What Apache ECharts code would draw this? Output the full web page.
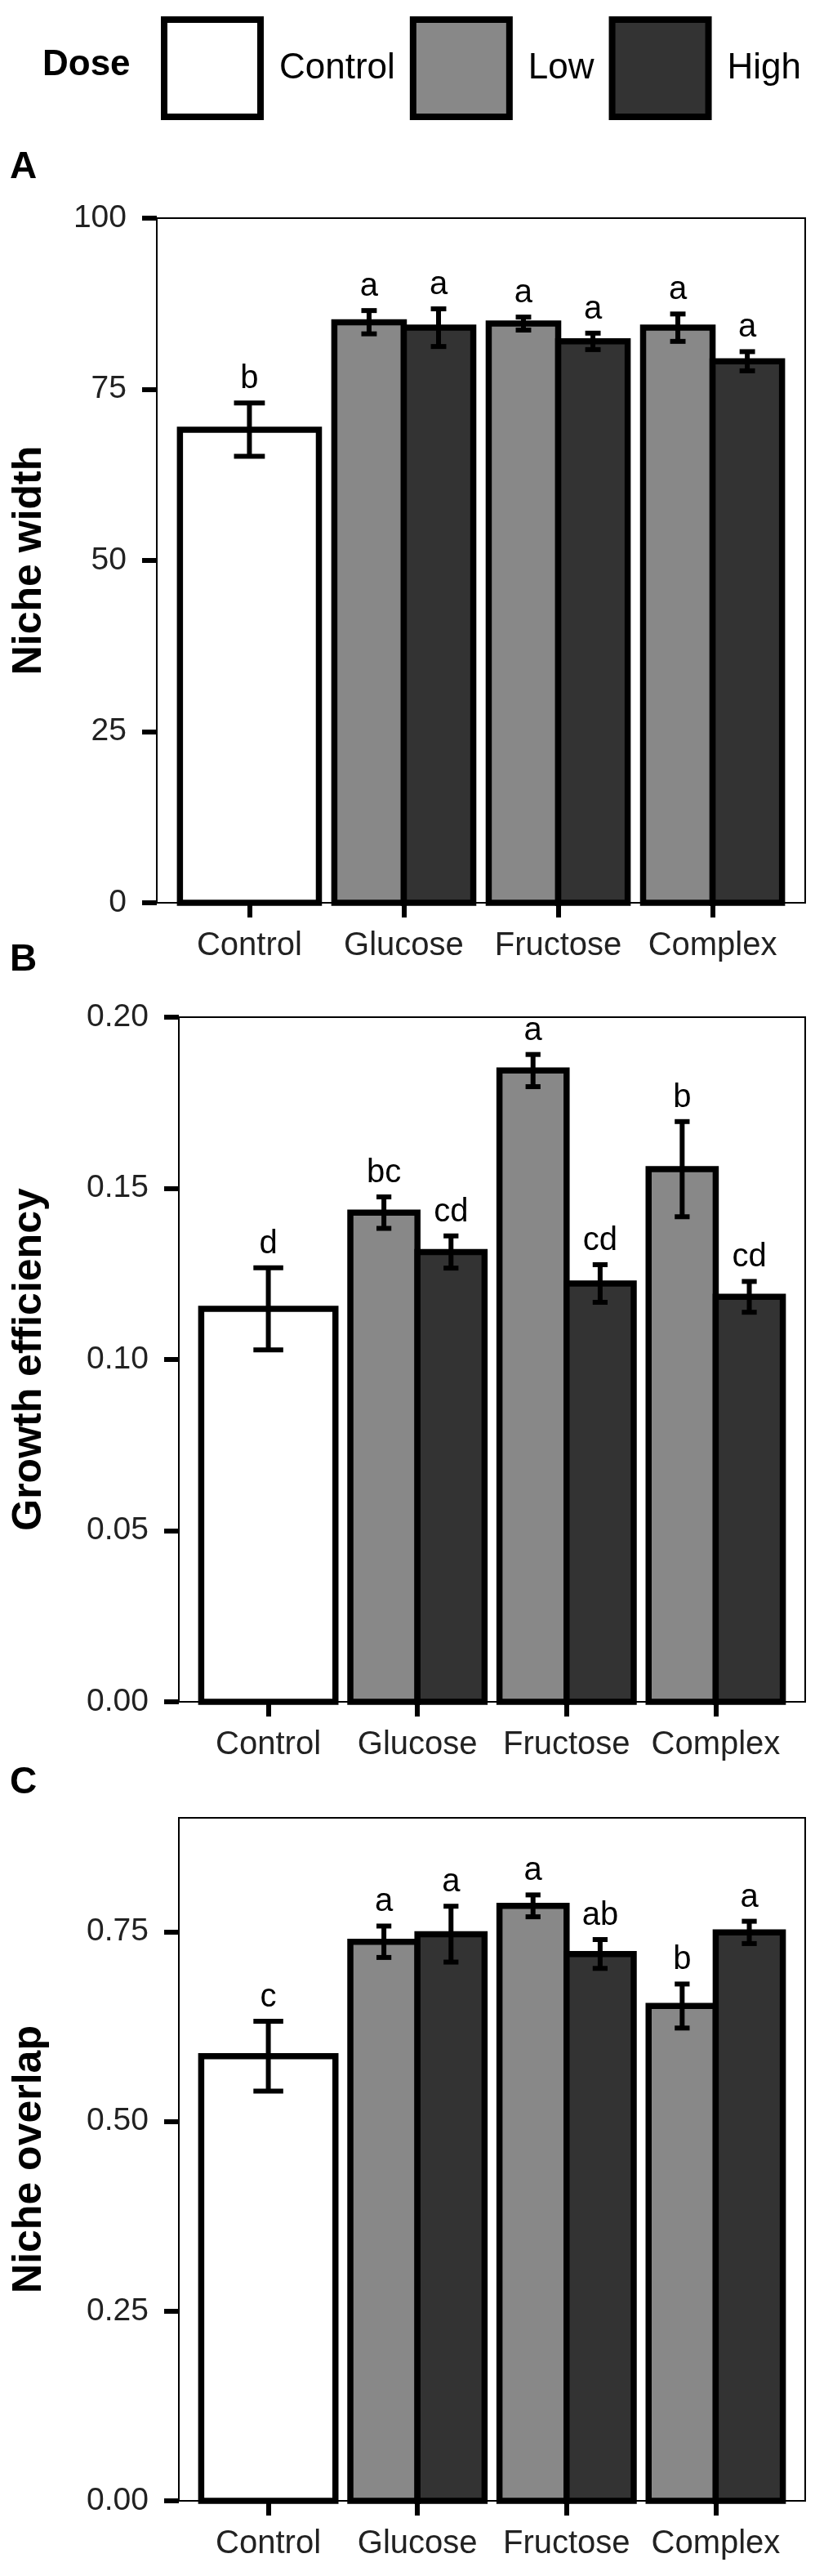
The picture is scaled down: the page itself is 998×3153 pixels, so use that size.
<!DOCTYPE html>
<html>
<head>
<meta charset="utf-8">
<title>Niche width, growth efficiency and niche overlap by dose</title>
<script src="https://cdn.jsdelivr.net/npm/echarts@6/dist/echarts.min.js"></script>
<style>
html, body { margin: 0; padding: 0; background: #fff; }
#chart { width: 998px; height: 3153px; }
</style>
</head>
<body>
<div id="chart"></div>
<script>
// x categories and the 7 bars (Control alone, then Low/High per carbon source)
const categories = ['Control', 'Glucose', 'Fructose', 'Complex'];
const doses = ['Control', 'Low', 'High'];
const barCategory = [0, 1, 1, 2, 2, 3, 3];
const barDose = ['Control', 'Low', 'High', 'Low', 'High', 'Low', 'High'];

// A - niche width
const widthMean = [69.1, 84.8, 84.0, 84.6, 82.0, 84.0, 79.1];
const widthSe = [3.9, 1.7, 2.75, 0.95, 1.2, 2.0, 1.4];
const widthLetters = ['b', 'a', 'a', 'a', 'a', 'a', 'a'];
const widthTicks = [0, 25, 50, 75, 100];

// B - growth efficiency
const growthMean = [0.1148, 0.1429, 0.1314, 0.1844, 0.1222, 0.1556, 0.1183];
const growthSe = [0.012, 0.0046, 0.0047, 0.0047, 0.0055, 0.0139, 0.0045];
const growthLetters = ['d', 'bc', 'cd', 'a', 'cd', 'b', 'cd'];
const growthTicks = [0, 0.05, 0.10, 0.15, 0.20];

// C - niche overlap
const overlapMean = [0.586, 0.7367, 0.7467, 0.784, 0.7206, 0.652, 0.749];
const overlapSe = [0.046, 0.0207, 0.0368, 0.0144, 0.019, 0.029, 0.0147];
const overlapLetters = ['c', 'a', 'a', 'a', 'ab', 'b', 'a'];
const overlapTicks = [0, 0.25, 0.50, 0.75];

const FONT = '"Liberation Sans", Arial, Helvetica, sans-serif';
const doseColors = { Control: '#ffffff', Low: '#888888', High: '#333333' };

const panels = [
    { label: 'A', name: 'Niche width', mean: widthMean, se: widthSe, letters: widthLetters, ticks: widthTicks, max: 100, digits: 0, left: 192, top: 267, height: 838, labelTop: 182 },
    { label: 'B', name: 'Growth efficiency', mean: growthMean, se: growthSe, letters: growthLetters, ticks: growthTicks, max: 0.2, digits: 2, left: 219, top: 1245, height: 838, labelTop: 1152 },
    { label: 'C', name: 'Niche overlap', mean: overlapMean, se: overlapSe, letters: overlapLetters, ticks: overlapTicks, max: 0.9, digits: 2, left: 219, top: 2225, height: 836, labelTop: 2159 }
];

// bar + error bar + letter, dodged like ggplot
function makeRender(dose, letters) {
    var offset = dose === 'Low' ? -0.225 : (dose === 'High' ? 0.225 : 0);
    var barW = dose === 'Control' ? 0.9 : 0.45;
    var capW = dose === 'Control' ? 0.2 : 0.1;
    return function (params, api) {
        var x = api.value(0) + offset;
        var mean = api.value(1);
        var se = api.value(2);
        var unit = api.size([1, 0])[0];
        var base = api.coord([x, 0]);
        var top = api.coord([x, mean]);
        var hi = api.coord([x, mean + se]);
        var lo = api.coord([x, mean - se]);
        var errStyle = { stroke: '#000', lineWidth: 6 };
        return {
            type: 'group',
            children: [
                { type: 'rect', shape: { x: base[0] - barW * unit / 2, y: top[1], width: barW * unit, height: base[1] - top[1] },
                  style: { fill: api.visual('color'), stroke: '#000', lineWidth: 7.5 } },
                { type: 'line', shape: { x1: hi[0], y1: hi[1], x2: lo[0], y2: lo[1] }, style: errStyle },
                { type: 'line', shape: { x1: hi[0] - capW * unit / 2, y1: hi[1], x2: hi[0] + capW * unit / 2, y2: hi[1] }, style: errStyle },
                { type: 'line', shape: { x1: lo[0] - capW * unit / 2, y1: lo[1], x2: lo[0] + capW * unit / 2, y2: lo[1] }, style: errStyle },
                { type: 'text', x: hi[0], y: hi[1] - 9,
                  style: { text: letters[api.value(3)], fill: '#000', font: '40px ' + FONT, align: 'center', verticalAlign: 'bottom' } }
            ]
        };
    };
}

const grids = [], xAxes = [], yAxes = [], series = [];
const titles = [{ text: 'Dose', left: 52, top: 58, padding: 0,
    textStyle: { fontSize: 44, fontWeight: 'bold', color: '#000', fontFamily: FONT } }];

panels.forEach(function (p, k) {
    titles.push({ text: p.label, left: 12, top: p.labelTop, padding: 0,
        textStyle: { fontSize: 46, fontWeight: 'bold', color: '#000', fontFamily: FONT } });
    grids.push({ left: p.left, right: 12, top: p.top, height: p.height, show: true,
        borderColor: '#000', borderWidth: 2, backgroundColor: 'transparent' });
    xAxes.push({
        gridIndex: k, type: 'value', min: -0.6, max: 3.6,
        splitLine: { show: false }, axisLine: { show: false, onZero: false },
        axisTick: { show: true, length: 18, customValues: [0, 1, 2, 3], lineStyle: { color: '#000', width: 6 } },
        axisLabel: { customValues: [0, 1, 2, 3], margin: 33, fontSize: 40, color: '#222', fontFamily: FONT,
            formatter: function (v) { return categories[Math.round(v)]; } }
    });
    yAxes.push({
        gridIndex: k, type: 'value', min: 0, max: p.max,
        splitLine: { show: false }, axisLine: { show: false, onZero: false },
        axisTick: { show: true, length: 18, customValues: p.ticks, lineStyle: { color: '#000', width: 6 } },
        axisLabel: { customValues: p.ticks, margin: 37, fontSize: 39, color: '#222', fontFamily: FONT,
            formatter: function (v) { return v.toFixed(p.digits); } },
        name: p.name, nameLocation: 'middle', nameRotate: 90, nameGap: p.left - 61,
        nameTextStyle: { fontSize: 50, fontWeight: 'bold', color: '#000', fontFamily: FONT }
    });
    doses.forEach(function (dose) {
        var data = [];
        barDose.forEach(function (d, i) {
            if (d === dose) data.push([barCategory[i], p.mean[i], p.se[i], i]);
        });
        series.push({
            type: 'custom', name: dose, xAxisIndex: k, yAxisIndex: k,
            data: data, encode: { x: 0, y: 1 },
            itemStyle: { color: doseColors[dose] },
            renderItem: makeRender(dose, p.letters)
        });
    });
});

const chart = echarts.init(document.getElementById('chart'));
chart.setOption({
    animation: false,
    backgroundColor: '#fff',
    title: titles,
    legend: {
        left: 197, top: 20, padding: 0, icon: 'rect', selectedMode: false,
        itemWidth: 118, itemHeight: 119, itemGap: 18,
        data: doses.map(function (d) {
            return { name: d, itemStyle: { color: doseColors[d], borderColor: '#000', borderWidth: 8 } };
        }),
        textStyle: { fontSize: 44, color: '#000', fontFamily: FONT, padding: [0, 0, 0, 18] }
    },
    grid: grids,
    xAxis: xAxes,
    yAxis: yAxes,
    series: series
});
</script>
</body>
</html>
